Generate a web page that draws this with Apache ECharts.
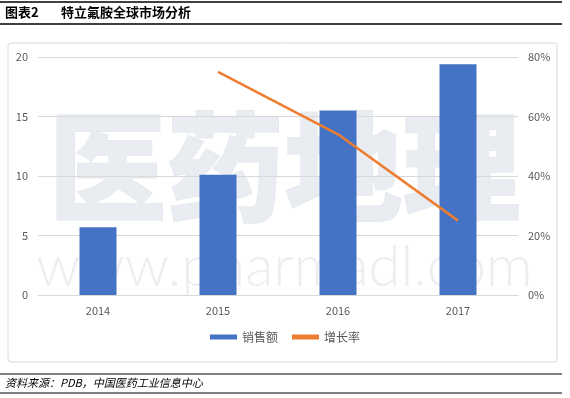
<!DOCTYPE html>
<html>
<head>
<meta charset="utf-8">
<script src="https://cdn.jsdelivr.net/npm/echarts@6/dist/echarts.min.js"></script>
<style>
  html, body { margin: 0; padding: 0; background: #fff; }
  #main { width: 570px; height: 398px; }
</style>
</head>
<body>
<div id="main"></div>
<script>
// 数据
var years = ['2014', '2015', '2016', '2017'];
var sales = [5.7, 10.1, 15.5, 19.4];       // 销售额
var growth = [null, 75, 54, 25];           // 增长率 (%)
var leftTicks = [0, 20];
var rightTicks = [0, 80];

var chart = echarts.init(document.getElementById('main'), null, { renderer: 'canvas' });
var cjk = '"Noto Sans CJK SC", "Noto Sans", sans-serif';

var option = {
  animation: false,
  textStyle: { fontFamily: cjk },
  graphic: [
    // 标题上下的线
    { type: 'line', shape: { x1: 0, y1: 2, x2: 562, y2: 2 }, style: { stroke: '#000', lineWidth: 1.5 } },
    { type: 'line', shape: { x1: 0, y1: 24, x2: 562, y2: 24 }, style: { stroke: '#000', lineWidth: 1.5 } },
    { type: 'text', left: 5, top: 6, style: { text: '图表2', font: 'bold 13px ' + cjk, fill: '#000' } },
    { type: 'text', left: 61, top: 6, style: { text: '特立氟胺全球市场分析', font: 'bold 13px ' + cjk, fill: '#000' } },
    // 图框
    { type: 'rect', z: -10, shape: { x: 8, y: 43, width: 549, height: 319, r: 3 }, style: { fill: '#fff', stroke: '#d9d9d9', lineWidth: 1 } },
    // 水印
    { type: 'text', z: -5, left: 48, top: 108, style: { text: '医药地理', font: '900 118px ' + cjk, fill: '#e9ecf1', stroke: '#dfe3e9', lineWidth: 1 } },
    { type: 'text', z: -5, left: 36, top: 238, style: { text: 'www.pharmadl.com', font: '300 58px Lato, sans-serif', fill: '#eceef2' } },
    // 资料来源
    { type: 'line', shape: { x1: 0, y1: 374, x2: 562, y2: 374 }, style: { stroke: '#000', lineWidth: 1.2 } },
    { type: 'line', shape: { x1: 0, y1: 393, x2: 562, y2: 393 }, style: { stroke: '#000', lineWidth: 1.2 } },
    { type: 'text', left: 5, top: 377, style: { text: '资料来源：PDB，中国医药工业信息中心', font: 'italic 11px ' + cjk, fill: '#000' } }
  ],
  grid: { left: 38, right: 52, top: 57, bottom: 103 },
  legend: {
    bottom: 50,
    left: 'center',
    itemWidth: 27,
    itemHeight: 5,
    itemGap: 14,
    textStyle: { fontSize: 12, color: '#595959', fontFamily: cjk },
    data: [
      { name: '销售额', icon: 'rect' },
      { name: '增长率', icon: 'rect', itemStyle: { color: '#ED7D31' } }
    ]
  },
  xAxis: {
    type: 'category',
    data: years,
    axisTick: { show: false },
    axisLine: { lineStyle: { color: '#d9d9d9' } },
    axisLabel: { color: '#595959', fontSize: 11, margin: 10 }
  },
  yAxis: [
    {
      type: 'value',
      min: leftTicks[0], max: leftTicks[1], interval: 5,
      axisLine: { show: false },
      axisTick: { show: false },
      axisLabel: { color: '#595959', fontSize: 11, margin: 10 },
      splitLine: { lineStyle: { color: '#d9d9d9' } }
    },
    {
      type: 'value',
      min: rightTicks[0], max: rightTicks[1], interval: 20,
      axisLine: { show: false },
      axisTick: { show: false },
      axisLabel: { color: '#595959', fontSize: 11, margin: 10, formatter: '{value}%' },
      splitLine: { show: false }
    }
  ],
  series: [
    {
      name: '销售额',
      type: 'bar',
      data: sales,
      barWidth: 37,
      itemStyle: { color: '#4472C4' }
    },
    {
      name: '增长率',
      type: 'line',
      yAxisIndex: 1,
      data: growth,
      symbol: 'none',
      connectNulls: false,
      lineStyle: { color: '#ED7D31', width: 2.5 },
      itemStyle: { color: '#ED7D31' }
    }
  ]
};
chart.setOption(option);
</script>
</body>
</html>
